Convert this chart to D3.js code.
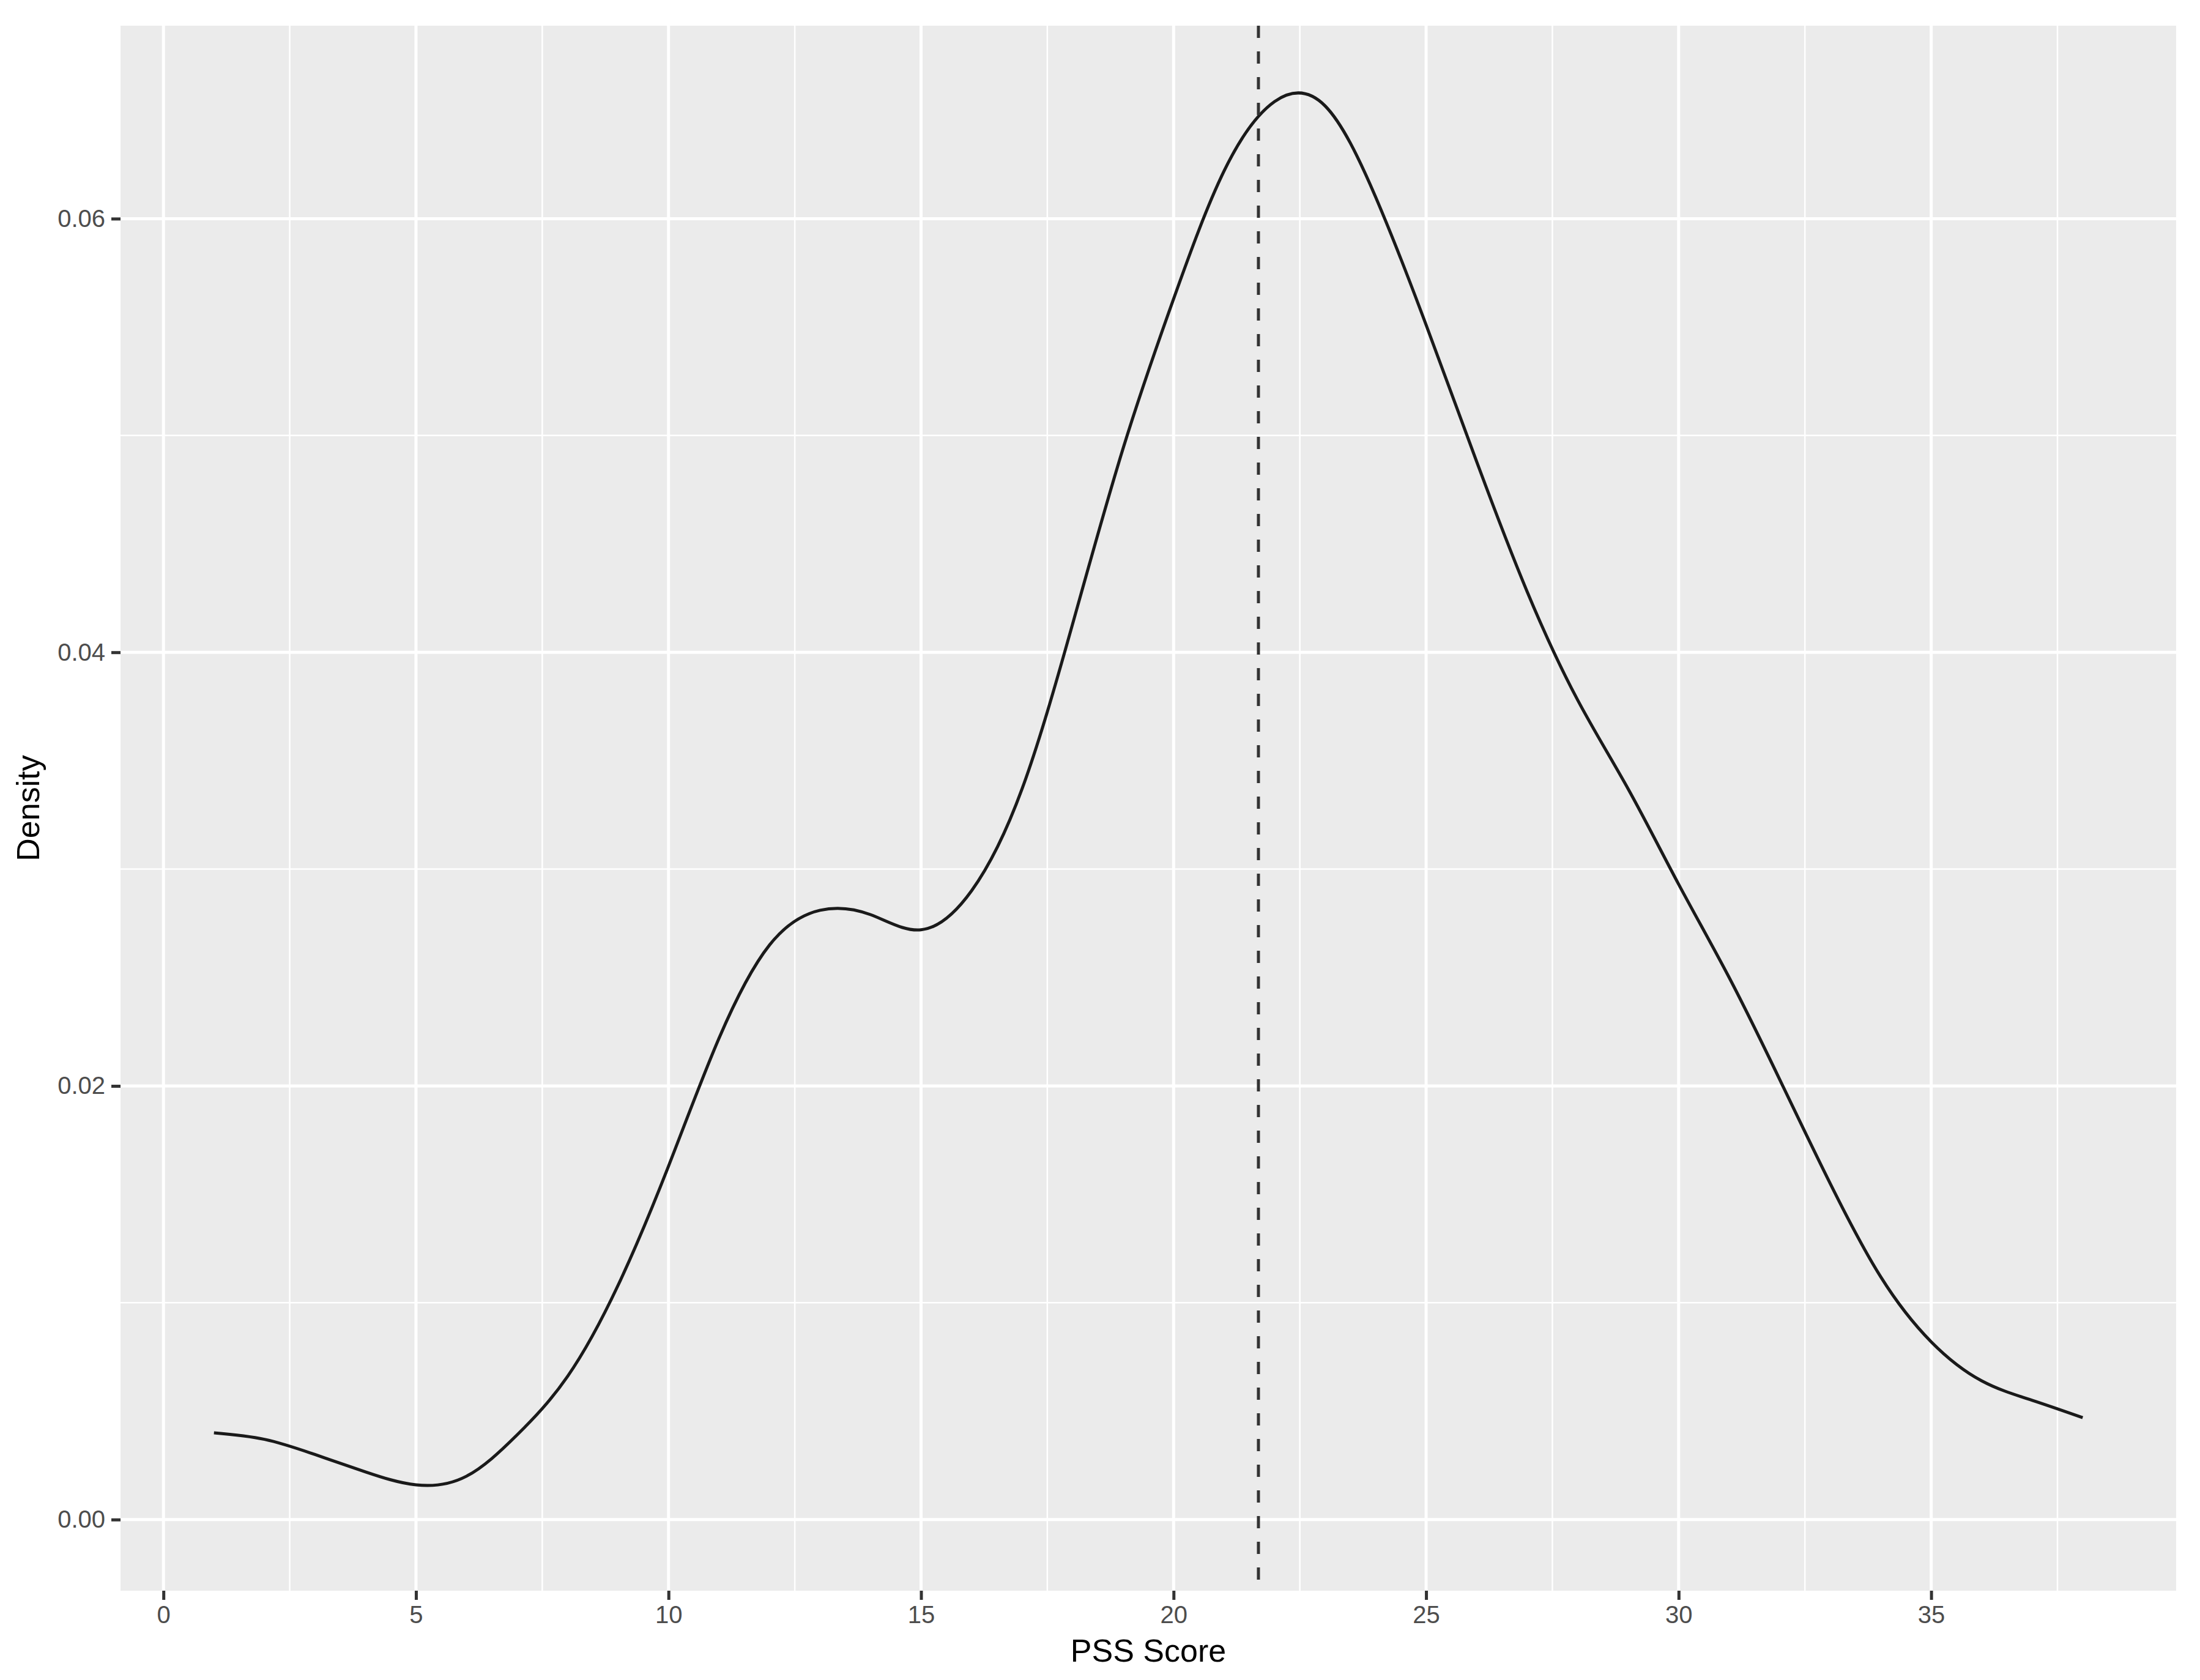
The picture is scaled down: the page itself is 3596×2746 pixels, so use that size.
<!DOCTYPE html>
<html>
<head>
<meta charset="utf-8">
<script src="https://cdn.jsdelivr.net/npm/d3@7"></script>
<style>
  body { margin: 0; background: #fff; }
  text { font-family: "Liberation Sans", Arial, sans-serif; }
</style>
</head>
<body>
<div id="chart"></div>
<script>
// density curve
const pssScore = [1, 2, 3, 4, 5, 6, 7, 8, 9, 10, 11, 12, 13, 14, 15, 16, 17, 18, 19, 20,
    21, 22, 23, 24, 25, 26, 27, 28, 29, 30, 31, 32, 33, 34, 35, 36, 37, 38];
const density = [0.0040, 0.0037, 0.0030, 0.0022, 0.0016, 0.0020, 0.0039, 0.0066, 0.0108, 0.0163,
    0.0222, 0.0265, 0.0281, 0.0279, 0.0272, 0.0290, 0.0337, 0.0413, 0.0494, 0.0563,
    0.0622, 0.0654, 0.0652, 0.0610, 0.0551, 0.0488, 0.0428, 0.0378, 0.0337,
    0.0293, 0.0250, 0.0203, 0.0155, 0.0112, 0.0082, 0.0064, 0.0055, 0.0047];
const meanScore = 21.68;
const xTicks = [0, 5, 10, 15, 20, 25, 30, 35];
const xMinor = [2.5, 7.5, 12.5, 17.5, 22.5, 27.5, 32.5, 37.5];
const yTicks = [0, 0.02, 0.04, 0.06];
const yMinor = [0.01, 0.03, 0.05];

const width = 3596, height = 2746;
const panel = { left: 197, right: 3557, top: 42, bottom: 2600 };

const svg = d3.select("#chart").append("svg")
    .attr("width", width)
    .attr("height", height);

const x = d3.scaleLinear().domain([-0.85, 39.85]).range([panel.left, panel.right]);
const y = d3.scaleLinear().domain([-0.00328, 0.0689]).range([panel.bottom, panel.top]);

svg.append("rect")
    .attr("x", panel.left).attr("y", panel.top)
    .attr("width", panel.right - panel.left)
    .attr("height", panel.bottom - panel.top)
    .attr("fill", "#ebebeb");

// minor grid
svg.append("g").selectAll("line").data(xMinor).join("line")
    .attr("x1", d => x(d)).attr("x2", d => x(d))
    .attr("y1", panel.top).attr("y2", panel.bottom)
    .attr("stroke", "#fff").attr("stroke-width", 2.5);
svg.append("g").selectAll("line").data(yMinor).join("line")
    .attr("y1", d => y(d)).attr("y2", d => y(d))
    .attr("x1", panel.left).attr("x2", panel.right)
    .attr("stroke", "#fff").attr("stroke-width", 2.5);
// major grid
svg.append("g").selectAll("line").data(xTicks).join("line")
    .attr("x1", d => x(d)).attr("x2", d => x(d))
    .attr("y1", panel.top).attr("y2", panel.bottom)
    .attr("stroke", "#fff").attr("stroke-width", 5);
svg.append("g").selectAll("line").data(yTicks).join("line")
    .attr("y1", d => y(d)).attr("y2", d => y(d))
    .attr("x1", panel.left).attr("x2", panel.right)
    .attr("stroke", "#fff").attr("stroke-width", 5);

// axes
const axisX = d3.axisBottom(x).tickValues(xTicks).tickSize(15).tickPadding(10)
    .tickFormat(d3.format("d"));
const axisY = d3.axisLeft(y).tickValues(yTicks).tickSize(15).tickPadding(10)
    .tickFormat(d3.format(".2f"));

const gx = svg.append("g")
    .attr("transform", "translate(0," + panel.bottom + ")")
    .call(axisX);
const gy = svg.append("g")
    .attr("transform", "translate(" + panel.left + ",0)")
    .call(axisY);
[gx, gy].forEach(g => {
    g.select(".domain").remove();
    g.selectAll(".tick line").attr("stroke", "#333").attr("stroke-width", 5);
    g.selectAll(".tick text").attr("fill", "#4d4d4d").style("font-size", "40px");
});

// density line
const line = d3.line()
    .x((d, i) => x(pssScore[i]))
    .y(d => y(d))
    .curve(d3.curveNatural);
svg.append("path")
    .attr("d", line(density))
    .attr("fill", "none")
    .attr("stroke", "#1a1a1a")
    .attr("stroke-width", 5);

// mean line
svg.append("line")
    .attr("x1", x(meanScore)).attr("x2", x(meanScore))
    .attr("y1", panel.top).attr("y2", panel.bottom)
    .attr("stroke", "#333")
    .attr("stroke-width", 5)
    .attr("stroke-dasharray", "20,22");

// axis titles
svg.append("text")
    .attr("x", (panel.left + panel.right) / 2)
    .attr("y", 2716)
    .attr("text-anchor", "middle")
    .style("font-size", "52px")
    .attr("fill", "#000")
    .text("PSS Score");
svg.append("text")
    .attr("transform", "translate(64," + (panel.top + panel.bottom) / 2 + ") rotate(-90)")
    .attr("text-anchor", "middle")
    .style("font-size", "52px")
    .attr("fill", "#000")
    .text("Density");
</script>
</body>
</html>
